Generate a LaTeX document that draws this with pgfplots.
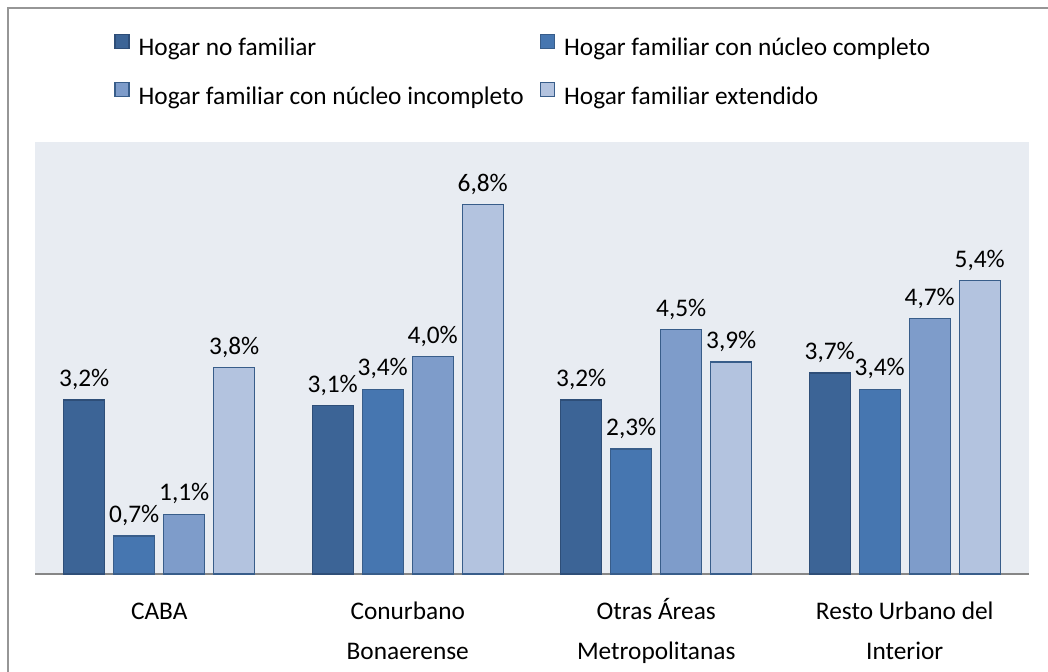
\documentclass[border=0pt]{standalone}
\usepackage{pgfplots}
\pgfplotsset{compat=1.18}
\usepackage{fontspec}
\setmainfont{Carlito}
\definecolor{bgc}{RGB}{232,236,242}
\definecolor{sA}{RGB}{60,100,150}
\definecolor{sB}{RGB}{70,118,176}
\definecolor{sC}{RGB}{126,156,202}
\definecolor{sD}{RGB}{179,195,223}
\definecolor{edA}{RGB}{46,78,120}
\definecolor{edB}{RGB}{56,93,138}
\definecolor{framec}{RGB}{150,150,150}
\definecolor{axc}{RGB}{134,134,134}

\begin{document}
\begin{tikzpicture}
\begin{axis}[
  scale only axis,
  width=745.5pt, height=324pt,
  ybar=6.75pt, bar width=30.75pt,
  xmin=-0.5, xmax=3.5, ymin=0, ymax=7.95,
  xtick={0,1,2,3},
  xticklabels={\strut CABA, \strut Conurbano\\Bonaerense, \strut Otras Áreas\\Metropolitanas, \strut Resto Urbano del\\Interior},
  xticklabel style={font=\fontsize{19}{30}\selectfont, align=center, anchor=north, inner sep=0pt, yshift=-10.5pt},
  x tick style={draw=none}, ytick=\empty,
  axis x line=bottom, axis y line=none,
  axis line style={axc, line width=1.5pt, -},
  axis background/.style={fill=bgc},
  nodes near coords={\pgfmathprintnumber[use comma,fixed,fixed zerofill,precision=1,assume math mode=true]{\pgfplotspointmeta}\%},
  every node near coord/.append style={font=\fontsize{19}{22}\selectfont, inner sep=0pt, text depth=0pt, anchor=south, yshift=9.5pt},
  legend columns=2,
  legend cell align=left,
  legend image code/.code={\draw[#1] (0pt,0.5pt) rectangle (10.5pt,11pt);},
  legend style={draw=none, fill=none, at={(axis description cs:0.0795,1.251)}, anchor=north west,
    inner sep=0pt, row sep=15.75pt, column sep=6.75pt,
    font=\fontsize{19}{22}\selectfont,
    nodes={inner sep=0pt, text height=14pt, text depth=4pt},
    /tikz/every even column/.append style={column sep=12pt}},
]
\addplot[fill=sA, draw=edA, line width=1pt] coordinates {(0,3.2) (1,3.1) (2,3.2) (3,3.7)};
\addplot[fill=sB, draw=edB, line width=1pt] coordinates {(0,0.7) (1,3.4) (2,2.3) (3,3.4)};
\addplot[fill=sC, draw=edB, line width=1pt] coordinates {(0,1.1) (1,4.0) (2,4.5) (3,4.7)};
\addplot[fill=sD, draw=edB, line width=1pt] coordinates {(0,3.8) (1,6.8) (2,3.9) (3,5.4)};
\legend{Hogar no familiar, Hogar familiar con núcleo completo, Hogar familiar con núcleo incompleto, Hogar familiar extendido}
\end{axis}
\draw[framec, line width=1.5pt] ([shift={(-20.6pt,-80pt)}]current axis.south west) -- ([shift={(-20.6pt,100.5pt)}]current axis.north west) -- ([shift={(20pt,100.5pt)}]current axis.north east);
\pgfresetboundingbox
\path[use as bounding box] ([shift={(-26.25pt,-72.75pt)}]current axis.south west) rectangle ([shift={(14.25pt,106.5pt)}]current axis.north east);
\end{tikzpicture}
\end{document}
